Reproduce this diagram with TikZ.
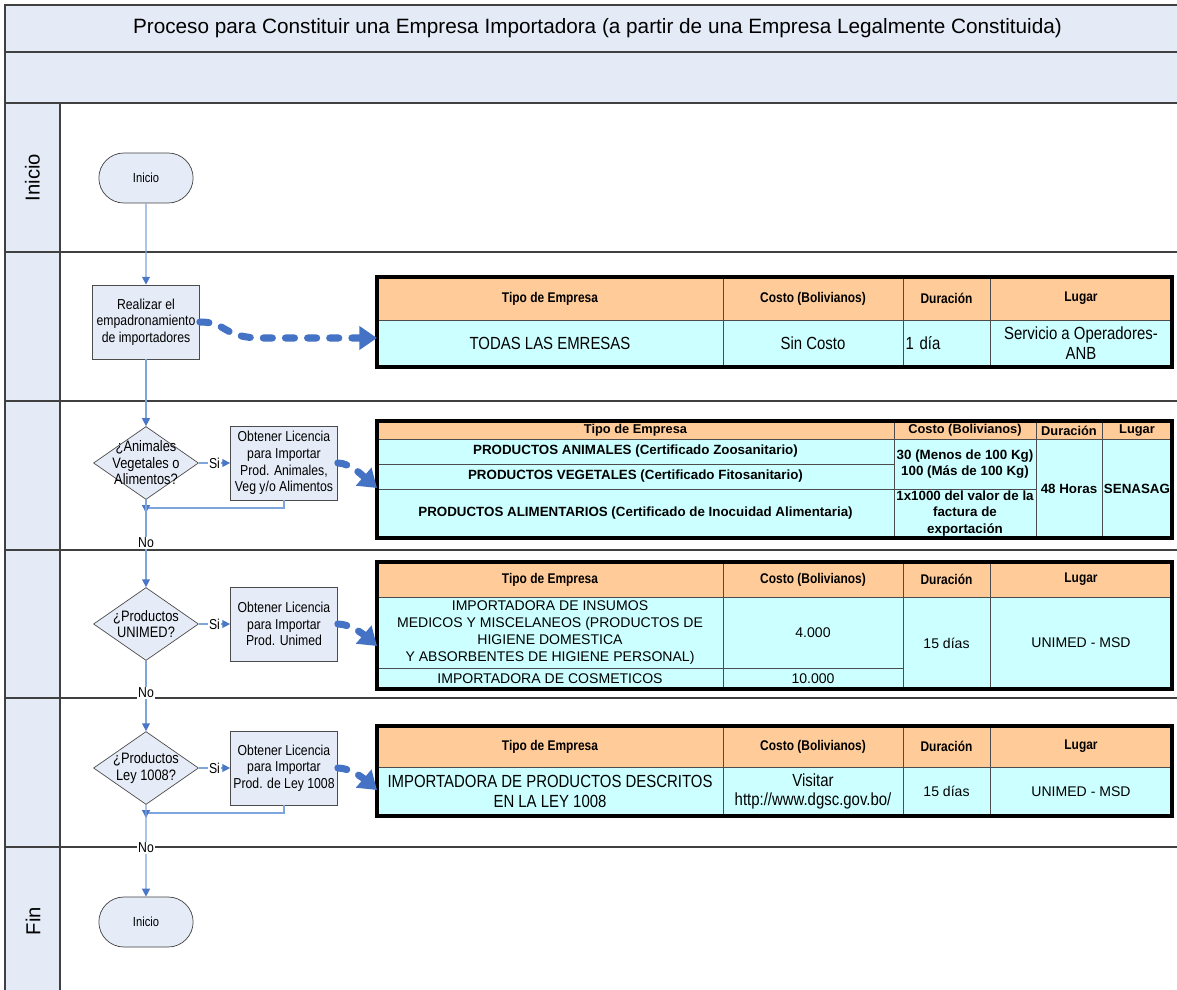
\documentclass[tikz,border=0pt]{standalone}
\usepackage{fontspec}
\setmainfont{Liberation Sans}
\newfontfamily\narrowsf[FakeStretch=0.85]{Liberation Sans}
\usetikzlibrary{shapes.geometric,shapes.misc,arrows.meta}

\definecolor{bandblue}{HTML}{E4EBF6}
\definecolor{boxblue}{HTML}{E6ECF7}
\definecolor{flowblue}{HTML}{7EA5DC}
\definecolor{tipblue}{HTML}{4A78C6}
\definecolor{linkblue}{HTML}{4472C4}
\definecolor{hdrorange}{HTML}{FFCC99}
\definecolor{rowcyan}{HTML}{CCFFFF}
\definecolor{laneline}{HTML}{404040}

\tikzset{
  band/.style={draw=laneline, line width=0.9pt, fill=bandblue, inner sep=0pt,
    font=\fontsize{11.8}{14}\selectfont},
  lanehead/.style={draw=laneline, line width=0.9pt, fill=bandblue, inner sep=0pt},
  lanebody/.style={draw=laneline, line width=0.9pt, inner sep=0pt},
  lanelabel/.style={rotate=90, font=\fontsize{11.5}{13}\selectfont},
  terminal/.style={draw=black!75, fill=boxblue, rounded rectangle,
    minimum width=2.12cm, minimum height=1cm,
    font=\narrowsf\fontsize{7.5}{9}\selectfont},
  procbox/.style={draw=black!70, fill=boxblue, rectangle, align=center,
    minimum width=2.14cm, minimum height=1.48cm, inner sep=1pt,
    font=\narrowsf\fontsize{8.2}{9.5}\selectfont},
  decision/.style={draw=black!70, fill=boxblue, diamond, inner sep=0pt,
    minimum width=2.1cm, minimum height=1.46cm},
  dectext/.style={align=center, inner sep=0pt,
    font=\narrowsf\fontsize{8.6}{9.4}\selectfont},
  flow/.style={draw=flowblue, line width=0.7pt,
    -{Triangle[length=4.5pt,width=4.5pt,color=tipblue]}},
  flowline/.style={draw=flowblue, line width=0.7pt},
  edgelbl/.style={fill=white, inner sep=0.6pt,
    font=\narrowsf\fontsize{8.2}{9}\selectfont},
  infolink/.style={draw=linkblue, line width=4pt, line cap=round,
    dash pattern=on 5.2pt off 7.4pt,
    -{Triangle[length=10pt,width=13pt,color=linkblue]}},
  % table cells
  cellbase/.style={draw=black!70, line width=0.5pt, inner sep=0pt, align=center},
  hcell/.style={cellbase, fill=hdrorange,
    font=\narrowsf\bfseries\fontsize{8}{9.5}\selectfont},
  hcellsm/.style={cellbase, fill=hdrorange,
    font=\bfseries\fontsize{7.3}{8.5}\selectfont},
  dcell/.style={cellbase, fill=rowcyan,
    font=\narrowsf\fontsize{10}{11.3}\selectfont},
  dcellsm/.style={cellbase, fill=rowcyan,
    font=\bfseries\fontsize{7.6}{9.2}\selectfont},
  dcellmed/.style={cellbase, fill=rowcyan,
    font=\fontsize{8}{9.6}\selectfont},
  tframe/.style={draw=black, line width=1.8pt},
}

% cell from (x1,y1) to (x2,y2), in pixel units of the picture
\newcommand{\tcell}[7]{%
  \node[#6, minimum width={(#4-#2)*0.02cm}, minimum height={(#5-#3)*0.02cm}]
    (#1) at ({(#2+#4)/2},{(#3+#5)/2}) {#7};}

\begin{document}
\begin{tikzpicture}[x=0.02cm, y=-0.02cm]
  \path[use as bounding box] (0,0) rectangle (1177,990);
  \clip (0,0) rectangle (1177,990);
  \fill[white] (0,0) rectangle (1177,990);

  % title bands and lanes
  \tcell{title}{5}{5}{1190}{52}{band}{Proceso para Constituir una Empresa Importadora (a partir de una Empresa Legalmente Constituida)}
  \tcell{subtitle}{5}{52}{1190}{103}{band}{}
  \foreach \t/\b [count=\i] in {103/252,252/401,401/550,550/698,698/847,847/1000}{
    \tcell{lh\i}{5}{\t}{60}{\b}{lanehead}{}
    \tcell{lb\i}{60}{\t}{1190}{\b}{lanebody}{}
  }
  \node[lanelabel] (lbl1) at (lh1) {Inicio};
  \node[lanelabel] (lbl6) at (33,921) {Fin};

  % flow
  \node[terminal] (start) at (146,178) {Inicio};
  \node[procbox] (padron) at (146,322) {Realizar el\\empadronamiento\\de importadores};
  \node[decision] (q1) at (146,463) {};
  \node[dectext] (q1t) at (q1) {¿Animales\\Vegetales o\\Alimentos?};
  \node[procbox] (lic1) at (284,463) {Obtener Licencia\\para Importar\\Prod. Animales,\\Veg y/o Alimentos};
  \node[decision] (q2) at (146,624) {};
  \node[dectext] (q2t) at (q2) {¿Productos\\UNIMED?};
  \node[procbox] (lic2) at (284,624) {Obtener Licencia\\para Importar\\Prod. Unimed};
  \node[decision] (q3) at (146,768) {};
  \node[dectext] (q3t) at (q3) {¿Productos\\Ley 1008?};
  \node[procbox] (lic3) at (284,768) {Obtener Licencia\\para Importar\\Prod. de Ley 1008};
  \node[terminal] (finish) at (146,922) {Inicio};

  \coordinate (j1) at (146,508);
  \coordinate (j3) at (146,813);

  \draw[flow] (start) -- (padron);
  \draw[flow] (padron) -- (q1);
  \draw[flow] (q1) -- node[edgelbl] (si1) {Si} (lic1);
  \draw[flowline] (lic1.south) |- (j1);
  \draw[flow] (j1) -- ++(0,5);
  \draw[flow] (q1) -- (q2);
  \draw[flow] (q2) -- node[edgelbl] (si2) {Si} (lic2);
  \draw[flow] (q2) -- (q3);
  \draw[flow] (q3) -- node[edgelbl] (si3) {Si} (lic3);
  \draw[flowline] (lic3.south) |- (j3);
  \draw[flow] (j3) -- ++(0,5);
  \draw[flow] (q3) -- (finish);
  \node[edgelbl] (no1) at (146,543) {No};
  \node[edgelbl] (no2) at (146,693) {No};
  \node[edgelbl] (no3) at (146,848) {No};

  % table: empadronamiento
  \tcell{t1h1}{377}{277}{723}{320}{hcell}{Tipo de Empresa}
  \tcell{t1h2}{723}{277}{903}{320}{hcell}{Costo (Bolivianos)}
  \tcell{t1h3}{903}{277}{990}{320}{hcell}{Duración}
  \tcell{t1h4}{990}{277}{1172}{320}{hcell}{Lugar}
  \tcell{t1d1}{377}{320}{723}{367}{dcell}{TODAS LAS EMRESAS}
  \tcell{t1d2}{723}{320}{903}{367}{dcell}{Sin Costo}
  \tcell{t1d3}{903}{320}{990}{367}{dcell, text width=1.64cm, align=left}{1 día}
  \tcell{t1d4}{990}{320}{1172}{367}{dcell}{Servicio a Operadores-\\ANB}
  \draw[tframe] (377,277) rectangle (1172,367);

  % table: SENASAG
  \tcell{t2h1}{377}{422}{894}{439}{hcellsm}{Tipo de Empresa}
  \tcell{t2h2}{894}{422}{1036}{439}{hcellsm}{Costo (Bolivianos)}
  \tcell{t2h3}{1036}{422}{1102}{439}{hcellsm}{Duración}
  \tcell{t2h4}{1102}{422}{1172}{439}{hcellsm}{Lugar}
  \tcell{t2a}{377}{439}{894}{464}{dcellsm}{PRODUCTOS ANIMALES (Certificado Zoosanitario)}
  \tcell{t2b}{377}{464}{894}{489}{dcellsm}{PRODUCTOS VEGETALES (Certificado Fitosanitario)}
  \tcell{t2c}{377}{489}{894}{538}{dcellsm}{PRODUCTOS ALIMENTARIOS (Certificado de Inocuidad Alimentaria)}
  \tcell{t2d}{894}{439}{1036}{489}{dcellsm}{30 (Menos de 100 Kg)\\100 (Más de 100 Kg)}
  \tcell{t2e}{894}{489}{1036}{538}{dcellsm}{1x1000 del valor de la\\factura de\\exportación}
  \tcell{t2f}{1036}{439}{1102}{538}{dcellsm}{48 Horas}
  \tcell{t2g}{1102}{439}{1172}{538}{dcellsm}{SENASAG}
  \draw[tframe] (377,421) rectangle (1172,538);

  % table: UNIMED
  \tcell{t3h1}{377}{562}{723}{597}{hcell}{Tipo de Empresa}
  \tcell{t3h2}{723}{562}{903}{597}{hcell}{Costo (Bolivianos)}
  \tcell{t3h3}{903}{562}{990}{597}{hcell}{Duración}
  \tcell{t3h4}{990}{562}{1172}{597}{hcell}{Lugar}
  \tcell{t3a}{377}{597}{723}{668}{dcellmed}{IMPORTADORA DE INSUMOS\\MEDICOS Y MISCELANEOS (PRODUCTOS DE\\HIGIENE DOMESTICA\\Y ABSORBENTES DE HIGIENE PERSONAL)}
  \tcell{t3b}{377}{668}{723}{689}{dcellmed}{IMPORTADORA DE COSMETICOS}
  \tcell{t3c}{723}{597}{903}{668}{dcellmed}{4.000}
  \tcell{t3d}{723}{668}{903}{689}{dcellmed}{10.000}
  \tcell{t3e}{903}{597}{990}{689}{dcellmed}{15 días}
  \tcell{t3f}{990}{597}{1172}{689}{dcellmed}{UNIMED - MSD}
  \draw[tframe] (377,562) rectangle (1172,689);

  % table: ley 1008
  \tcell{t4h1}{377}{726}{723}{767}{hcell}{Tipo de Empresa}
  \tcell{t4h2}{723}{726}{903}{767}{hcell}{Costo (Bolivianos)}
  \tcell{t4h3}{903}{726}{990}{767}{hcell}{Duración}
  \tcell{t4h4}{990}{726}{1172}{767}{hcell}{Lugar}
  \tcell{t4d1}{377}{767}{723}{816}{dcell}{IMPORTADORA DE PRODUCTOS DESCRITOS\\EN LA LEY 1008}
  \tcell{t4d2}{723}{767}{903}{816}{dcell}{Visitar\\http://www.dgsc.gov.bo/}
  \tcell{t4d3}{903}{767}{990}{816}{dcellmed}{15 días}
  \tcell{t4d4}{990}{767}{1172}{816}{dcellmed}{UNIMED - MSD}
  \draw[tframe] (377,726) rectangle (1172,816);

  % links to tables
  \coordinate (t1in) at (377,338);
  \coordinate (t2in) at (377,488);
  \coordinate (t3in) at (377,646);
  \coordinate (t4in) at (377,790);
  \draw[infolink] (padron.east) .. controls (228,322) and (222,338) .. (262,338) -- (t1in);
  \draw[infolink] (lic1.east) .. controls +(12,0) and +(-14,-12) .. (t2in);
  \draw[infolink] (lic2.east) .. controls +(12,0) and +(-14,-12) .. (t3in);
  \draw[infolink] (lic3.east) .. controls +(12,0) and +(-14,-12) .. (t4in);
\end{tikzpicture}
\end{document}
